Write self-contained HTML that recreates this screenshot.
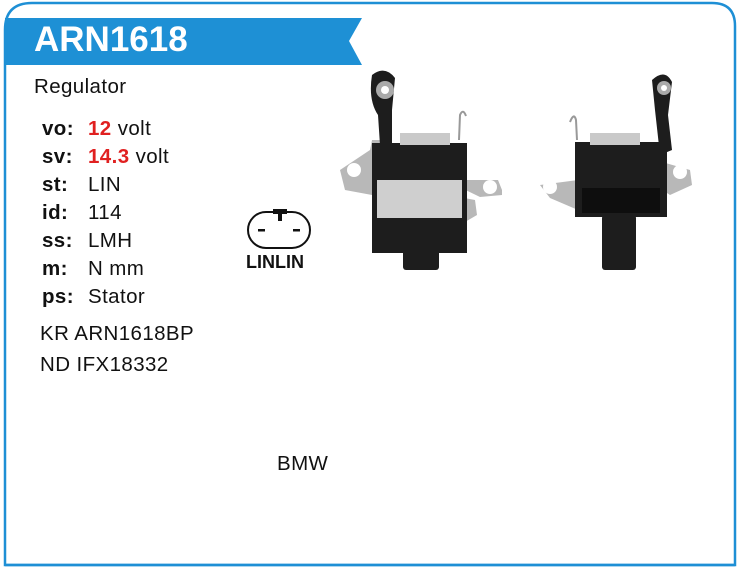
<!DOCTYPE html>
<html><head><meta charset="utf-8"><style>
body{margin:0;width:740px;height:576px;background:#fff;position:relative;font-family:"Liberation Sans",Arial,sans-serif;overflow:hidden}
.t{position:absolute;font-size:20.5px;color:#111;white-space:nowrap;letter-spacing:0.4px;line-height:24px}
.b{font-weight:bold}
.r{color:#e02020;font-weight:bold}
</style></head><body>
<svg width="740" height="576" style="position:absolute;left:0;top:0">
<path d="M5,565 L5,30 Q5,3 32,3 L712,3 Q735,3 735,26 L735,565 Z" fill="none" stroke="#1e8fd5" stroke-width="2.5"/>
<line x1="5" y1="565" x2="735" y2="565" stroke="#1e8fd5" stroke-width="2.5"/>
<polygon points="5,18 362,18 349,41 362,65 5,65" fill="#1e90d5"/>
<rect x="248" y="212" width="62" height="36" rx="18" fill="#fff" stroke="#111" stroke-width="2"/>
<rect x="273" y="209" width="14" height="5" fill="#111"/><rect x="278" y="209" width="4" height="12" fill="#111"/>
<rect x="258" y="229" width="7" height="2.5" fill="#111"/><rect x="293" y="229" width="7" height="2.5" fill="#111"/>
<g>
<path d="M340,170 L370,150 L372,140 L390,140 L395,185 L448,185 L448,195 L475,200 L477,215 L465,222 L440,215 L400,215 L372,195 L345,190 Z" fill="#b8b8b8"/>
<circle cx="354" cy="170" r="7" fill="#fff"/>
<path d="M445,180 L498,180 L502,190 L502,195 L480,197 Z" fill="#b8b8b8"/>
<circle cx="490" cy="187" r="7" fill="#fff"/>
<path d="M372,75 Q385,65 395,78 L392,110 L392,145 L380,145 L378,115 Q368,100 372,75Z" fill="#1d1d1d"/>
<circle cx="385" cy="90" r="9" fill="#aaa"/><circle cx="385" cy="90" r="4" fill="#fff"/>
<rect x="372" y="143" width="95" height="110" fill="#1d1d1d"/>
<rect x="400" y="133" width="50" height="12" fill="#c9c9c9"/>
<rect x="377" y="180" width="85" height="38" fill="#cfcfcf"/>
<rect x="403" y="218" width="36" height="52" rx="3" fill="#1d1d1d"/>
<path d="M459,140 L460,115 Q463,108 466,116" fill="none" stroke="#999" stroke-width="2"/>
</g>
<g>
<path d="M540,185 L578,180 L578,210 L550,198 Z" fill="#b8b8b8"/>
<circle cx="550" cy="187" r="7" fill="#fff"/>
<path d="M655,160 L690,170 L692,185 L670,195 L655,185 Z" fill="#b8b8b8"/>
<circle cx="680" cy="172" r="7" fill="#fff"/>
<path d="M652,80 Q665,68 672,82 L668,115 L672,150 L660,155 L655,110 Z" fill="#1d1d1d"/>
<circle cx="664" cy="88" r="7" fill="#aaa"/><circle cx="664" cy="88" r="3" fill="#fff"/>
<rect x="575" y="142" width="92" height="75" fill="#1d1d1d"/>
<rect x="590" y="133" width="50" height="12" fill="#c9c9c9"/>
<rect x="582" y="188" width="78" height="25" fill="#0e0e0e"/>
<rect x="602" y="215" width="34" height="55" rx="3" fill="#1d1d1d"/>
<path d="M577,140 L576,120 Q574,112 570,122" fill="none" stroke="#999" stroke-width="2"/>
</g>
</svg>
<div class="t b" style="left:34px;top:20px;font-size:35px;line-height:40px;color:#fff;letter-spacing:0">ARN1618</div>
<div class="t" style="left:34px;top:75px">Regulator</div>
<div class="t b" style="left:42px;top:117px">vo:</div><div class="t" style="left:88px;top:117px"><span class="r">12</span> volt</div>
<div class="t b" style="left:42px;top:145px">sv:</div><div class="t" style="left:88px;top:145px"><span class="r">14.3</span> volt</div>
<div class="t b" style="left:42px;top:173px">st:</div><div class="t" style="left:88px;top:173px">LIN</div>
<div class="t b" style="left:42px;top:201px">id:</div><div class="t" style="left:88px;top:201px">114</div>
<div class="t b" style="left:42px;top:229px">ss:</div><div class="t" style="left:88px;top:229px">LMH</div>
<div class="t b" style="left:42px;top:257px">m:</div><div class="t" style="left:88px;top:257px">N mm</div>
<div class="t b" style="left:42px;top:285px">ps:</div><div class="t" style="left:88px;top:285px">Stator</div>
<div class="t" style="left:40px;top:322px">KR ARN1618BP</div>
<div class="t" style="left:40px;top:353px">ND IFX18332</div>
<div class="t b" style="left:246px;top:250px;font-size:18px;letter-spacing:0">LINLIN</div>
<div class="t" style="left:277px;top:452px">BMW</div>
</body></html>
